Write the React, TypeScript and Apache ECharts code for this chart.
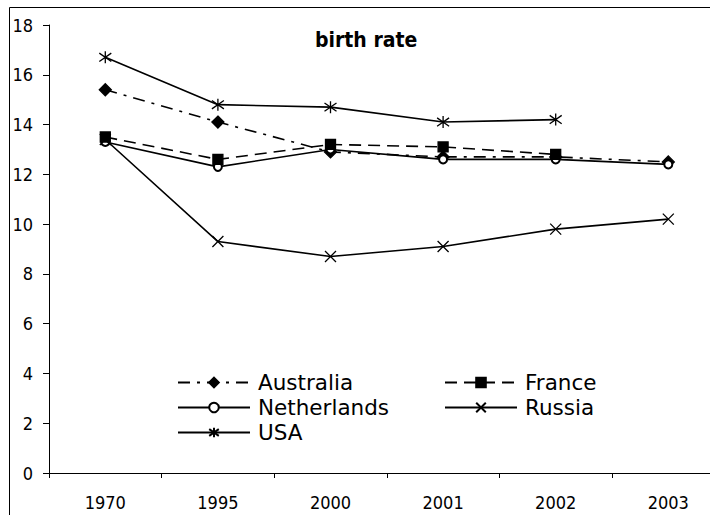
import React, { useEffect, useRef } from 'react';
import * as echarts from 'echarts';

const categories = ['1970', '1995', '2000', '2001', '2002', '2003'];
const australia = [15.4, 14.1, 12.9, 12.7, 12.7, 12.5];
const france = [13.5, 12.6, 13.2, 13.1, 12.8, null];
const netherlands = [13.3, 12.3, 13.0, 12.6, 12.6, 12.4];
const russia = [13.4, 9.3, 8.7, 9.1, 9.8, 10.2];
const usa = [16.7, 14.8, 14.7, 14.1, 14.2, null];
const yMin = 0;
const yMax = 18;
const yStep = 2;

const FONT = '"DejaVu Sans Condensed", "DejaVu Sans", sans-serif';
const LEGEND_FONT = '"DejaVu Sans", sans-serif';
const X_PATH = 'path://M0,0 L10,10 M10,0 L0,10';
const STAR_PATH = 'path://M5,0 L5,10 M0,1.5 L10,8.5 M10,1.5 L0,8.5';

export default function App() {
  const ref = useRef<HTMLDivElement>(null);
  useEffect(() => {
    if (!ref.current) return;
    const chart = echarts.init(ref.current, null, { renderer: 'svg' });
    const baseItem = { color: '#000', borderColor: '#000', borderWidth: 1.3 };
    const mk = (name: string, data: (number | null)[], symbol: string, size: number, lineType: any, z: number, item?: any) => ({
      name,
      type: 'line',
      data,
      symbol,
      symbolSize: size,
      z,
      lineStyle: { color: '#000', width: 1.6, type: lineType },
      itemStyle: item || baseItem,
      emphasis: { disabled: true },
    });
    const legendText = { fontFamily: LEGEND_FONT, fontSize: 21.5, color: '#000', lineHeight: 25, padding: [0, 0, 0, 3] };
    chart.setOption({
      animation: false,
      backgroundColor: '#fff',
      title: {
        text: 'birth rate',
        left: 315,
        top: 29,
        padding: 0,
        textStyle: { fontFamily: FONT, fontSize: 21, fontWeight: 'bold', color: '#000' },
      },
      graphic: [
        {
          type: 'rect',
          silent: true,
          z: -10,
          shape: { x: 9.5, y: 7.5, width: 900, height: 700 },
          style: { fill: 'none', stroke: '#000', lineWidth: 1 },
        },
      ],
      legend: [
        {
          data: ['Australia', 'Netherlands', 'USA'],
          orient: 'vertical',
          left: 177,
          top: 370,
          padding: 0,
          itemGap: 0,
          itemWidth: 72,
          itemHeight: 12,
          textStyle: legendText,
        },
        {
          data: ['France', 'Russia'],
          orient: 'vertical',
          left: 444,
          top: 370,
          padding: 0,
          itemGap: 0,
          itemWidth: 72,
          itemHeight: 12,
          textStyle: legendText,
        },
      ],
      grid: { left: 49, top: 25, right: 15.4, bottom: 47, containLabel: false },
      xAxis: {
        type: 'category',
        data: categories,
        boundaryGap: true,
        axisLine: { lineStyle: { color: '#000', width: 1 } },
        axisTick: { show: true, length: 5, lineStyle: { color: '#000' } },
        axisLabel: { interval: 0, margin: 20, color: '#000', fontFamily: FONT, fontSize: 18 },
        splitLine: { show: false },
      },
      yAxis: {
        type: 'value',
        min: yMin,
        max: yMax,
        interval: yStep,
        axisLine: { show: true, lineStyle: { color: '#000', width: 1 } },
        axisTick: { show: true, length: 6, lineStyle: { color: '#000' } },
        axisLabel: { margin: 16, color: '#000', fontFamily: FONT, fontSize: 18 },
        splitLine: { show: false },
      },
      series: [
        mk('Australia', australia, 'diamond', 12, [12, 7, 3, 7], 2),
        mk('France', france, 'rect', 10, [12, 7], 6),
        mk('Netherlands', netherlands, 'emptyCircle', 8, 'solid', 3, { color: '#000', borderColor: '#000', borderWidth: 1.3 }),
        mk('Russia', russia, X_PATH, 11, 'solid', 4),
        mk('USA', usa, STAR_PATH, 12, 'solid', 5),
      ],
    });
    return () => chart.dispose();
  }, []);
  return (
    <div style={{ position: 'fixed', left: 0, top: 0, width: '100vw', height: '100vh', overflow: 'hidden', background: '#fff' }}>
      <div ref={ref} style={{ position: 'absolute', left: 0, top: 0, width: 740, height: 520 }} />
    </div>
  );
}
